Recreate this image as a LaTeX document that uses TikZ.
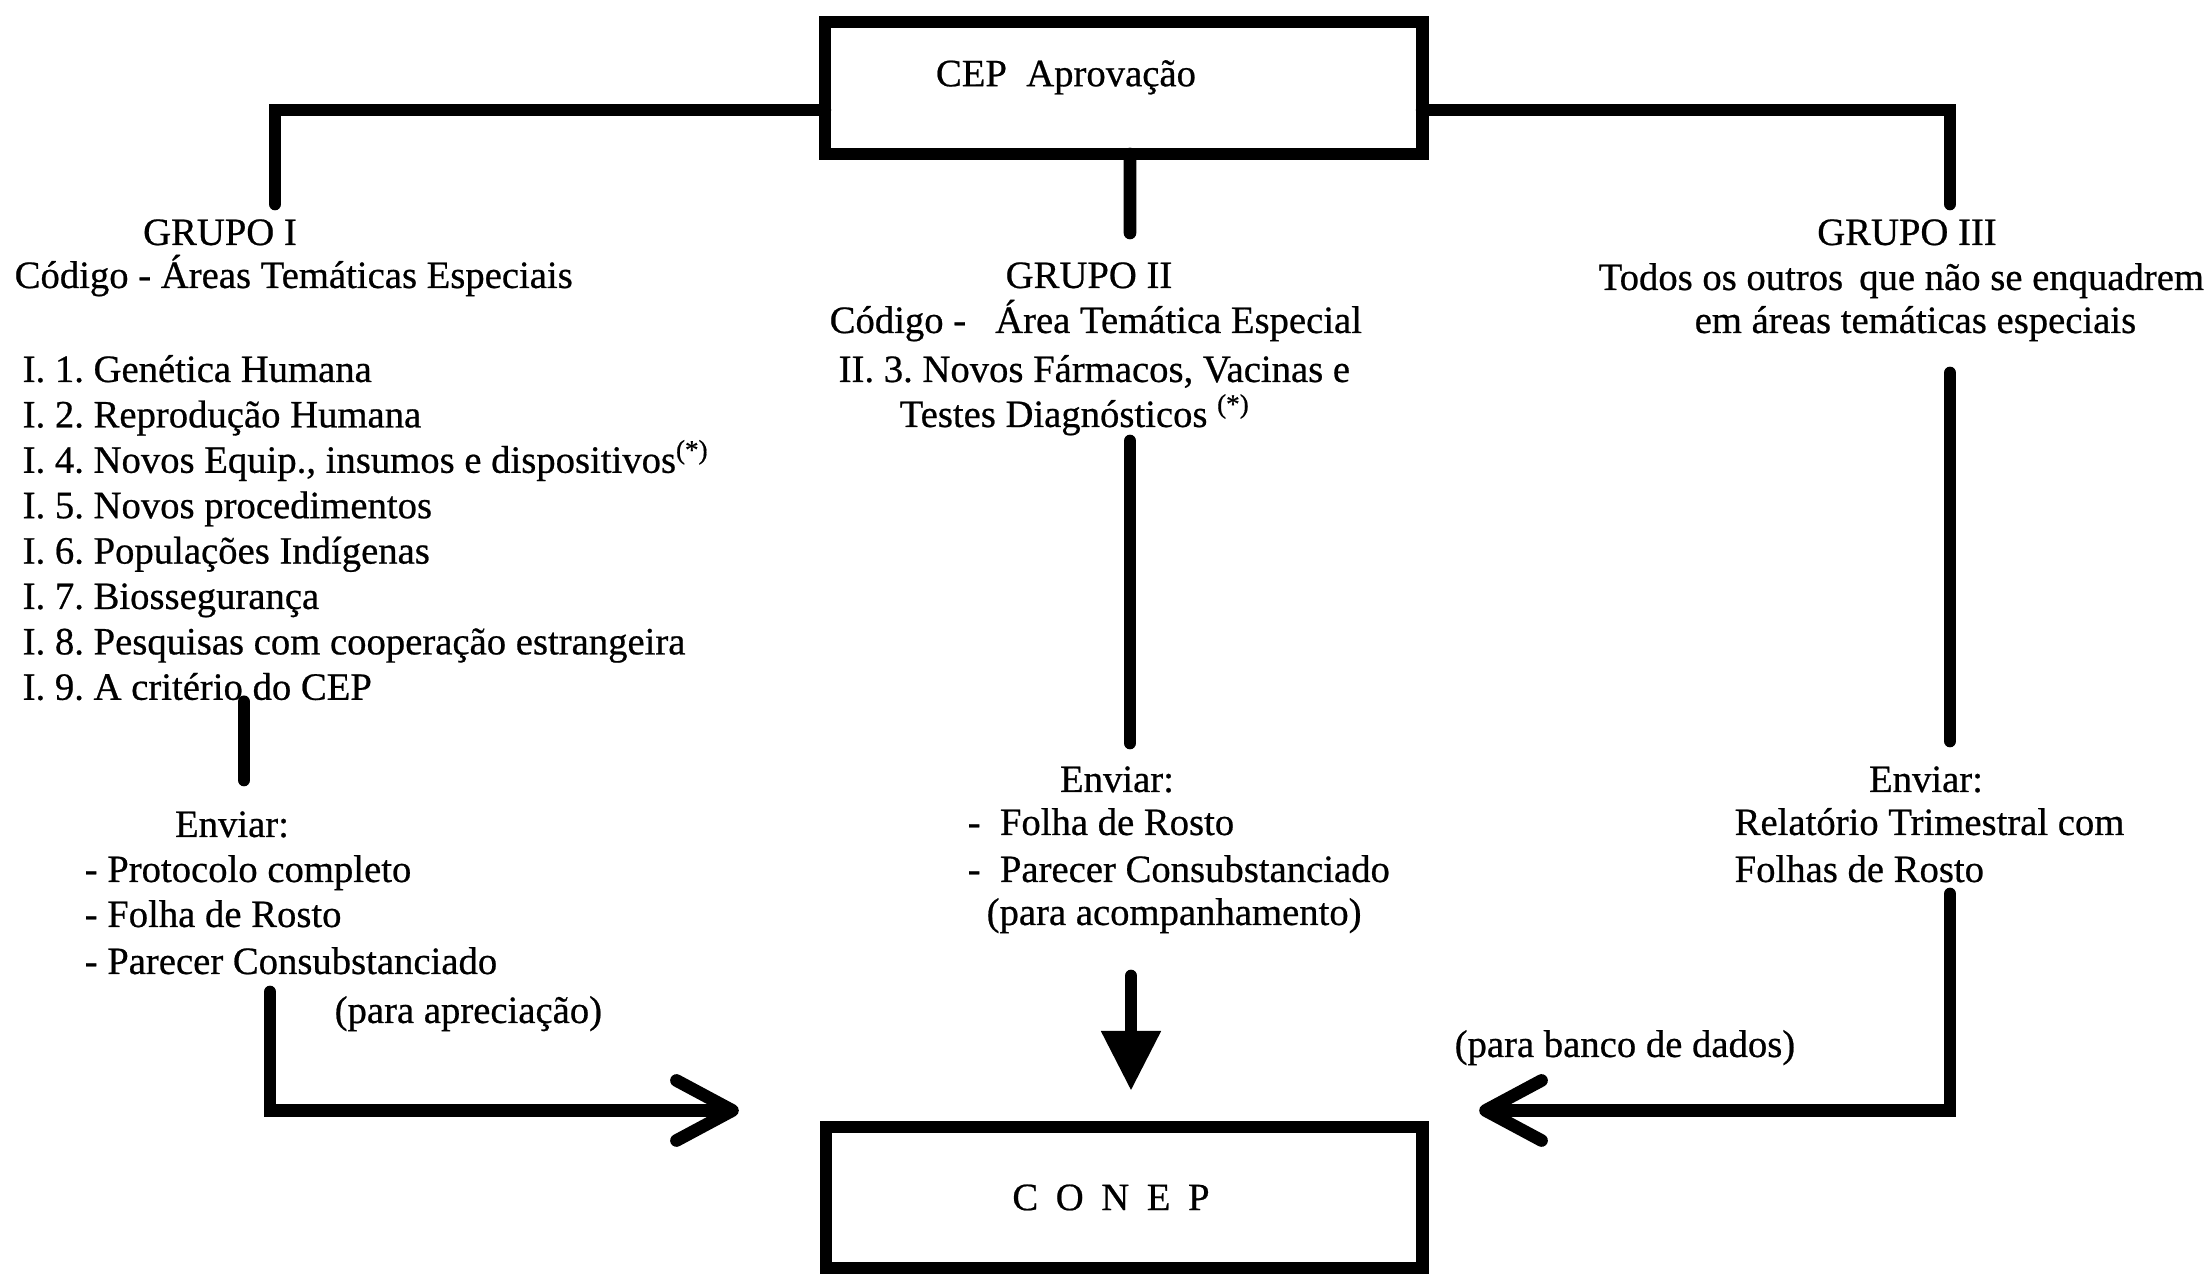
\documentclass[tikz,border=0pt]{standalone}
\usepackage{fontspec}
\setmainfont{Liberation Serif}[FakeBold=0.6]
\usetikzlibrary{arrows.meta}
\frenchspacing

\tikzset{
  txt/.style={inner sep=0pt, font=\fontsize{11}{13}\selectfont},
  box/.style={draw, line width=3.6pt, outer sep=0pt, inner sep=0pt, font=\fontsize{11}{13}\selectfont},
  conn/.style={line width=3.6pt, line cap=round},
  barb/.style={conn, -{Straight Barb[length=5.6mm, width=6mm, round]}},
  tri/.style={conn, -{Triangle[length=5.9mm, width=6mm, line width=0.5pt]}}
}

\begin{document}
\begin{tikzpicture}[x=0.01cm, y=-0.01cm]
\useasboundingbox (0,0) rectangle (2208,1277);

% boxes
\node[box, minimum width=5.97cm, minimum height=1.32cm, text height=8pt, text depth=9pt] (cep) at (1123.5,88) {CEP\ \ Aprovação\hspace*{1.15cm}};
\node[box, minimum width=5.96cm, minimum height=1.41cm] (conep) at (1124,1197.5) {C\hspace{5pt}O\hspace{5pt}N\hspace{5pt}E\hspace{5pt}P\hspace*{0.26cm}};

% grupo I
\node[txt, anchor=base] (g1) at (220,245) {GRUPO I};
\node[txt, anchor=base west] (g1a) at (14,288) {Código - Áreas Temáticas Especiais};
\foreach \t [count=\i] in {I. 1. Genética Humana, I. 2. Reprodução Humana,
    {I. 4. Novos Equip., insumos e dispositivos\textsuperscript{(*)}},
    I. 5. Novos procedimentos, I. 6. Populações Indígenas, I. 7. Biossegurança,
    I. 8. Pesquisas com cooperação estrangeira, I. 9. A critério do CEP}
  \node[txt, anchor=base west] (it\i) at (22,{382+45.4*(\i-1)}) {\t};
\node[txt, anchor=base] (e1) at (232,837) {Enviar:};
\node[txt, anchor=base west] (e2) at (84,882) {- Protocolo completo};
\node[txt, anchor=base west] (e3) at (84,927) {- Folha de Rosto};
\node[txt, anchor=base west] (e4) at (84,974) {- Parecer Consubstanciado};
\node[txt, anchor=base west] (pa) at (334,1023) {(para apreciação)};

% grupo II
\node[txt, anchor=base] (g2) at (1089,288) {GRUPO II};
\node[txt, anchor=base west] (g2a) at (829,333) {Código -\enspace\ Área Temática Especial};
\node[txt, anchor=base west] (g2b) at (838,382) {II. 3. Novos Fármacos, Vacinas e};
\node[txt, anchor=base west] (g2c) at (899,427) {Testes Diagnósticos \textsuperscript{(*)}};
\node[txt, anchor=base] (m1) at (1117,792) {Enviar:};
\node[txt, anchor=base west] (m2) at (967,835) {-\ \ Folha de Rosto};
\node[txt, anchor=base west] (m3) at (967,882) {-\ \ Parecer Consubstanciado};
\node[txt, anchor=base west] (m4) at (986,925) {(para acompanhamento)};

% grupo III
\node[txt, anchor=base] (g3) at (1907,245) {GRUPO III};
\node[txt, anchor=base west] (g3a) at (1598,290) {Todos os outros\,\ que não se enquadrem};
\node[txt, anchor=base west] (g3b) at (1694,333) {em áreas temáticas especiais};
\node[txt, anchor=base] (r1) at (1926,792) {Enviar:};
\node[txt, anchor=base west] (r2) at (1734,835) {Relatório Trimestral com};
\node[txt, anchor=base west] (r3) at (1734,882) {Folhas de Rosto};
\node[txt, anchor=base west] (pb) at (1454,1057) {(para banco de dados)};

% connectors
\draw[conn] ([yshift=-0.22cm]cep.west) -| ([shift={(55,-41)}]g1.base);
\draw[conn] ([yshift=-0.22cm]cep.east) -| ([shift={(43,-41)}]g3.base);
\draw[conn] ([xshift=0.065cm]cep.south) -- ([shift={(41,-55)}]g2.base);
\draw[conn] ([shift={(222,2)}]it8.base west) -- ([shift={(12,-57)}]e1.base);
\draw[conn] ([shift={(231,14)}]g2c.base west) -- ([shift={(13,-49)}]m1.base);
\draw[conn] ([shift={(256,40)}]g3b.base west) -- ([shift={(24,-51)}]r1.base);

% arrows to CONEP
\draw[barb] ([shift={(186,18)}]e4.base west) |- ([shift={(-87,-87)}]conep.west);
\draw[tri] ([shift={(145,51)}]m4.base west) -- ([shift={(7,-37)}]conep.north);
\draw[barb] ([shift={(216,12)}]r3.base west) |- ([shift={(57,-87)}]conep.east);
\end{tikzpicture}
\end{document}
